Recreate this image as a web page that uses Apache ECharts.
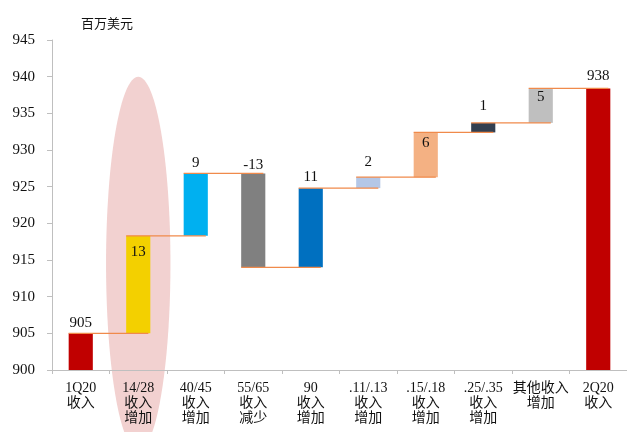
<!DOCTYPE html>
<html>
<head>
<meta charset="utf-8">
<script src="https://cdn.jsdelivr.net/npm/echarts@6/dist/echarts.min.js"></script>
<style>
  html, body { margin: 0; padding: 0; background: #fff; }
  #chart { width: 627px; height: 432px; }
</style>
</head>
<body>
<div id="chart"></div>
<script>
// Revenue bridge, 1Q20 -> 2Q20 (USD millions)
const categories = [
  '1Q20\n收入', '14/28\n收入\n增加', '40/45\n收入\n增加', '55/65\n收入\n减少',
  '90\n收入\n增加', '.11/.13\n收入\n增加', '.15/.18\n收入\n增加',
  '.25/.35\n收入\n增加', '其他收入\n增加', '2Q20\n收入'
];
const startTotal = 905.0;
const changes = [13.3, 8.5, -12.8, 10.8, 1.5, 6.1, 1.3, 4.7];
const yTicks = { min: 900, max: 945, interval: 5 };
const unitLabel = '百万美元';

// styling
const barColors = ['#C00000', '#F3D000', '#00B0F0', '#808080', '#0070C0',
  '#B4C7E7', '#F4B183', '#333F50', '#BFBFBF', '#C00000'];
const labelGap = [3, -8.5, 3, 0.5, 4, 8, -3.5, 9.5, -1, 5]; // negative = inside bar top
const FONT = "'Liberation Serif', 'Times New Roman', 'Noto Sans CJK SC', serif";
const BAR_RATIO = 0.42;

// build bar spans: [index, low, high, label]
const bars = [];
let running = startTotal;
bars.push([0, yTicks.min, startTotal, Math.round(startTotal)]);
changes.forEach((c, k) => {
  const lo = c >= 0 ? running : running + c;
  const hi = c >= 0 ? running + c : running;
  bars.push([k + 1, lo, hi, Math.round(c)]);
  running += c;
});
const endTotal = Math.round(running * 10) / 10;
bars.push([categories.length - 1, yTicks.min, endTotal, Math.round(endTotal)]);

// connector levels: running total after each bar
const levels = [];
let acc = startTotal;
levels.push([0, acc]);
changes.forEach((c, k) => { acc += c; levels.push([k + 1, acc]); });

const chart = echarts.init(document.getElementById('chart'), null, { renderer: 'canvas' });

chart.setOption({
  animation: false,
  backgroundColor: '#ffffff',
  title: {
    text: unitLabel,
    left: 81, top: 17, padding: 0,
    textStyle: { fontFamily: "'Noto Sans CJK SC', sans-serif", fontSize: 13, fontWeight: 'normal', color: '#111' }
  },
  grid: { left: 52, right: 0, top: 40, bottom: 62, containLabel: false },
  xAxis: {
    type: 'category',
    data: categories,
    axisLine: { lineStyle: { color: '#BFBFBF', width: 1 } },
    axisTick: { show: true, length: 4, lineStyle: { color: '#BFBFBF' } },
    axisLabel: {
      interval: 0, margin: 11,
      fontFamily: FONT, fontSize: 14, lineHeight: 15, color: '#111'
    },
    splitLine: { show: false }
  },
  yAxis: {
    type: 'value',
    min: yTicks.min, max: yTicks.max, interval: yTicks.interval,
    axisLine: { show: true, lineStyle: { color: '#BFBFBF', width: 1 } },
    axisTick: { show: true, length: 5, lineStyle: { color: '#BFBFBF' } },
    axisLabel: { margin: 17, fontFamily: FONT, fontSize: 15, color: '#111' },
    splitLine: { show: false }
  },
  series: [
    {
      // highlight oval around the 14/28 column
      type: 'custom',
      z: -1,
      clip: false,
      silent: true,
      data: [[1, 940]],
      renderItem: function (params, api) {
        const top = api.coord([api.value(0), api.value(1)]);
        const band = api.size([1, 0])[0];
        const rx = band * 0.56;
        const ry = 187;
        return {
          type: 'ellipse',
          shape: { cx: top[0], cy: top[1] + ry, rx: rx, ry: ry },
          style: { fill: '#F2D1D0' }
        };
      }
    },
    {
      type: 'custom',
      z: 3,
      data: bars,
      renderItem: function (params, api) {
        const i = api.value(0);
        const lo = api.value(1), hi = api.value(2);
        const pHi = api.coord([i, hi]);
        const pLo = api.coord([i, lo]);
        const bw = api.size([1, 0])[0] * BAR_RATIO;
        const gap = labelGap[i];
        const inside = gap < 0;
        return {
          type: 'group',
          children: [
            {
              type: 'rect',
              shape: { x: pHi[0] - bw / 2, y: pHi[1], width: bw, height: pLo[1] - pHi[1] },
              style: { fill: barColors[i] }
            },
            {
              type: 'text',
              z2: 10,
              style: {
                text: String(api.value(3)),
                x: pHi[0],
                y: pHi[1] - gap,
                align: 'center',
                verticalAlign: inside ? 'top' : 'bottom',
                font: '15px ' + FONT,
                fill: '#111'
              }
            }
          ]
        };
      }
    },
    {
      // orange connector lines between consecutive columns
      type: 'custom',
      z: 4,
      data: levels,
      renderItem: function (params, api) {
        const i = api.value(0);
        const v = api.value(1);
        const a = api.coord([i, v]);
        const b = api.coord([i + 1, v]);
        const bw = api.size([1, 0])[0] * BAR_RATIO;
        return {
          type: 'line',
          shape: { x1: a[0] - bw / 2, y1: a[1], x2: b[0] + bw / 2 - 2, y2: a[1] },
          style: { stroke: '#F08A4B', lineWidth: 1.3 }
        };
      }
    }
  ]
});
</script>
</body>
</html>
